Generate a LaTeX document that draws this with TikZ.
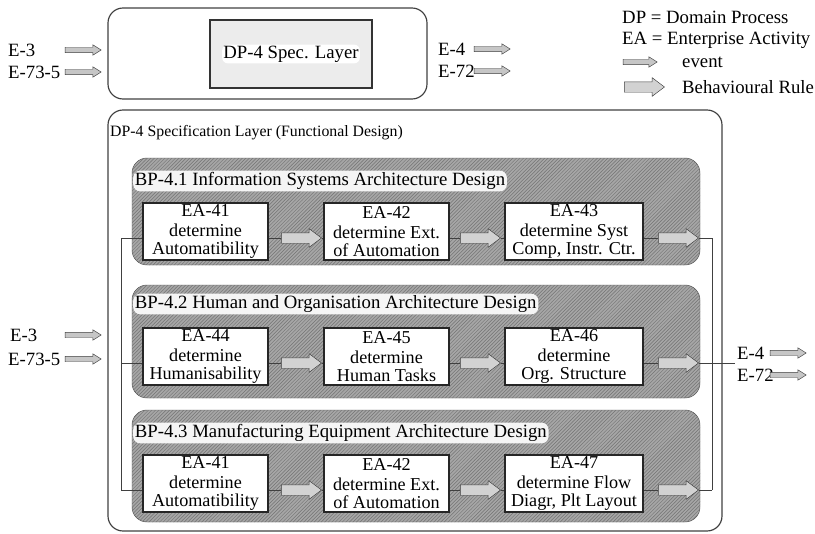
\documentclass[tikz,border=0pt]{standalone}
\usepackage{fontspec}
\setmainfont{Liberation Serif}
\usetikzlibrary{shapes.arrows,patterns}

\tikzset{
  act/.style={draw=black!85, line width=1.3pt, fill=white, inner sep=0pt,
    minimum width=3.75cm, minimum height=1.71cm, align=center,
    font=\fontsize{15.5}{18}\selectfont},
  rulearrow/.style={single arrow, draw=black!75, fill=gray!35, inner xsep=0pt,
    inner ysep=0.15cm, minimum height=1.2cm, single arrow head extend=0.12cm,
    single arrow tip angle=74},
  eventarrow/.style={single arrow, draw=black!75, fill=gray!45, inner xsep=0pt,
    inner ysep=0.075cm, minimum height=1.08cm, single arrow head extend=0.075cm,
    single arrow tip angle=64},
  lbl/.style={anchor=west, inner sep=0pt, font=\fontsize{16}{19}\selectfont},
  bpbox/.style={draw=black!70, rounded corners=0.45cm, fill=gray!70,
    postaction={pattern=north east lines, pattern color=black!55}},
  bptitle/.style={anchor=west, fill=white!92!gray, rounded corners=6pt,
    inner sep=1.5pt, font=\fontsize{16}{19}\selectfont},
  layerbox/.style={draw=black!75, line width=1pt, rounded corners=0.45cm},
  specbox/.style={draw=black!80, line width=1.5pt, fill=gray!15},
  hilite/.style={fill=white, rounded corners=5pt, inner sep=1pt,
    font=\fontsize{16}{19}\selectfont},
  wire/.style={draw=black!75, line width=0.6pt}
}

\begin{document}
\begin{tikzpicture}[x=0.03cm, y=-0.03cm]
  \useasboundingbox (0,0) rectangle (815,534);

  % top level: the domain process
  \draw[layerbox] (108,8) rectangle (427,99);
  \node[specbox, minimum width=4.86cm, minimum height=2.04cm,
    label={[hilite]center:DP-4 Spec. Layer}] (spec) at (291,54) {};
  \node[lbl] (e3t) at (8,50) {E-3};
  \node[eventarrow] (e3a) at (81,50) {};
  \node[lbl] (e73t) at (8,72) {E-73-5};
  \node[eventarrow] (e73a) at (81,72) {};
  \node[lbl] (e4t) at (438,49) {E-4};
  \node[eventarrow] (e4a) at (490,49) {};
  \node[lbl] (e72t) at (438,71) {E-72};
  \node[eventarrow] (e72a) at (490,71) {};

  % legend
  \node[lbl] (ldp) at (622,17) {DP = Domain Process};
  \node[lbl] (lea) at (622,40) {EA = Enterprise Activity};
  \node[eventarrow, minimum height=1.02cm] (lev) at (638,62) {};
  \node[lbl] (levt) at (682,62) {event};
  \node[rulearrow] (lbr) at (641,87) {};
  \node[lbl] (lbrt) at (682,87) {Behavioural Rule};

  % specification layer
  \draw[layerbox] (108,110) rectangle (722,531);
  \node[lbl, font=\fontsize{13.5}{16}\selectfont] (title) at (110,133)
    {DP-4 Specification Layer (Functional Design)};

  \draw[bpbox] (132,158) rectangle (700,265);
  \node[bptitle] (bp1) at (133,181) {BP-4.1 Information Systems Architecture Design};
  \draw[bpbox] (132,285) rectangle (700,398);
  \node[bptitle] (bp2) at (133,304) {BP-4.2 Human and Organisation Architecture Design};
  \draw[bpbox] (132,410) rectangle (700,522);
  \node[bptitle] (bp3) at (133,433) {BP-4.3 Manufacturing Equipment Architecture Design};

  % activities
  \node[act] (i1) at (205.5,231.5) {EA-41\\[-1pt]determine\\[-3pt]Automatibility};
  \node[act] (i2) at (386.5,231.5) {EA-42\\[-1pt]determine Ext.\\[-3pt]of Automation};
  \node[act, minimum width=4.14cm] (i3) at (574,231.5) {EA-43\\[-1pt]determine Syst\\[-3pt]Comp, Instr. Ctr.};
  \node[act] (h1) at (205.5,356.5) {EA-44\\[-1pt]determine\\[-3pt]Humanisability};
  \node[act] (h2) at (386.5,356.5) {EA-45\\[-1pt]determine\\[-3pt]Human Tasks};
  \node[act, minimum width=4.14cm] (h3) at (574,356.5) {EA-46\\[-1pt]determine\\[-3pt]Org. Structure};
  \node[act] (m1) at (205.5,483.5) {EA-41\\[-1pt]determine\\[-3pt]Automatibility};
  \node[act] (m2) at (386.5,483.5) {EA-42\\[-1pt]determine Ext.\\[-3pt]of Automation};
  \node[act, minimum width=4.14cm] (m3) at (574,483.5) {EA-47\\[-1pt]determine Flow\\[-3pt]Diagr, Plt Layout};

  % behavioural rules
  \node[rulearrow] (ri1) at (298,238) {};
  \node[rulearrow] (ri2) at (477,238) {};
  \node[rulearrow] (ri3) at (675,238) {};
  \node[rulearrow] (rh1) at (298,363) {};
  \node[rulearrow] (rh2) at (477,363) {};
  \node[rulearrow] (rh3) at (675,363) {};
  \node[rulearrow] (rm1) at (298,490) {};
  \node[rulearrow] (rm2) at (477,490) {};
  \node[rulearrow] (rm3) at (675,490) {};

  \coordinate (lt) at (121,238);
  \coordinate (lm) at (121,363);
  \coordinate (lb) at (121,490);
  \coordinate (rt) at (712,238);
  \coordinate (rb) at (712,490);
  \coordinate (out) at (735,363);

  \draw[wire] (lt) -- (lb);
  \draw[wire] (rt) -- (rb);
  \draw[wire] (lt) -- (lt -| i1.west);
  \draw[wire] (lm) -- (lm -| h1.west);
  \draw[wire] (lb) -- (lb -| m1.west);
  \draw[wire] (i1.east |- ri1) -- (ri1.west);
  \draw[wire] (ri1.east) -- (ri1.east -| i2.west);
  \draw[wire] (i2.east |- ri2) -- (ri2.west);
  \draw[wire] (ri2.east) -- (ri2.east -| i3.west);
  \draw[wire] (i3.east |- ri3) -- (ri3.west);
  \draw[wire] (ri3.east) -- (rt);
  \draw[wire] (h1.east |- rh1) -- (rh1.west);
  \draw[wire] (rh1.east) -- (rh1.east -| h2.west);
  \draw[wire] (h2.east |- rh2) -- (rh2.west);
  \draw[wire] (rh2.east) -- (rh2.east -| h3.west);
  \draw[wire] (h3.east |- rh3) -- (rh3.west);
  \draw[wire] (rh3.east) -- (out);
  \draw[wire] (m1.east |- rm1) -- (rm1.west);
  \draw[wire] (rm1.east) -- (rm1.east -| m2.west);
  \draw[wire] (m2.east |- rm2) -- (rm2.west);
  \draw[wire] (rm2.east) -- (rm2.east -| m3.west);
  \draw[wire] (m3.east |- rm3) -- (rm3.west);
  \draw[wire] (rm3.east) -- (rb);

  % events of the layer
  \node[lbl] (e3t2) at (10,335) {E-3};
  \node[eventarrow] (e3a2) at (81,335) {};
  \node[lbl] (e73t2) at (8,359) {E-73-5};
  \node[eventarrow] (e73a2) at (81,359) {};
  \node[lbl] (e4t2) at (737,353) {E-4};
  \node[eventarrow] (e4a2) at (786,353) {};
  \node[lbl] (e72t2) at (737,375) {E-72};
  \node[eventarrow] (e72a2) at (786,375) {};
\end{tikzpicture}
\end{document}
